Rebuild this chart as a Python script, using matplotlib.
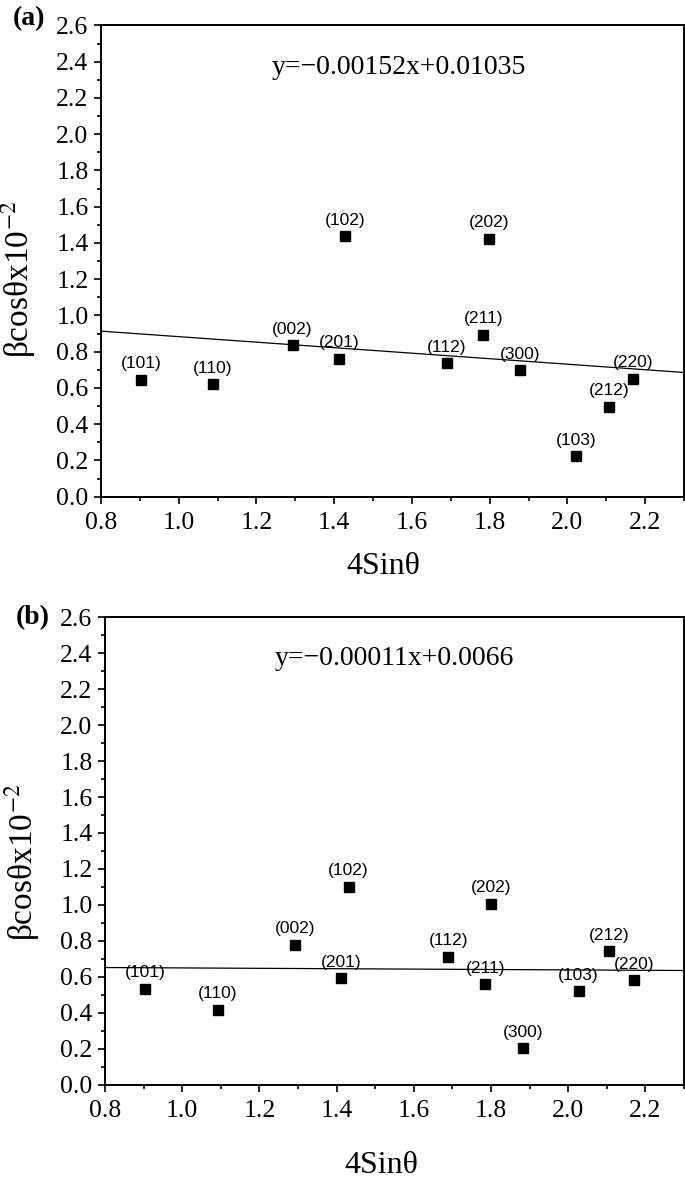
import numpy as np
import matplotlib
matplotlib.use("Agg")
import matplotlib.pyplot as plt
from matplotlib.ticker import MultipleLocator, FormatStrFormatter

plt.rcParams['font.family'] = ['Liberation Serif', 'DejaVu Serif']
plt.rcParams['mathtext.fontset'] = 'stix'

# peak labels (hkl) and 4 sin(theta) positions
hkl = ['(101)', '(110)', '(002)', '(201)', '(102)', '(112)',
       '(211)', '(202)', '(300)', '(103)', '(212)', '(220)']

x_a = [0.903, 1.088, 1.293, 1.413, 1.429, 1.690, 1.784, 1.799, 1.878, 2.023, 2.107, 2.170]
y_a = [0.645, 0.619, 0.836, 0.762, 1.437, 0.735, 0.894, 1.424, 0.698, 0.224, 0.497, 0.652]

x_b = [0.904, 1.092, 1.293, 1.411, 1.431, 1.689, 1.785, 1.799, 1.883, 2.027, 2.105, 2.171]
y_b = [0.532, 0.415, 0.778, 0.593, 1.101, 0.710, 0.558, 1.005, 0.201, 0.519, 0.743, 0.580]

# linear fits (beta cos theta = slope * 4 sin theta + intercept), plotted x 10^-2
slope_a, icpt_a = -0.00152, 0.01035
slope_b, icpt_b = -0.00011, 0.0066
eq_a = 'y=\u22120.00152x+0.01035'
eq_b = 'y=\u22120.00011x+0.0066'

fig = plt.figure(figsize=(6.85, 11.84), dpi=100)
ax1 = fig.add_axes([0.1474, 0.5805, 0.8511, 0.398])
ax2 = fig.add_axes([0.1533, 0.0840, 0.8453, 0.3946])

panels = [
    (ax1, x_a, y_a, slope_a, icpt_a, eq_a, '(a)', 0.462, 0.484, -70 / 471.2, 1.014),
    (ax2, x_b, y_b, slope_b, icpt_b, eq_b, '(b)', 0.476, 0.478, -81 / 467.2, 1.0),
]

for ax, xs, ys, m, c, eq, tag, ylab_y, xlab_x, xlab_y, tag_y in panels:
    xfit = np.array([0.8, 2.3])
    ax.plot(xfit, (m * xfit + c) * 100, color='black', lw=0.9)
    ax.plot(xs, ys, 's', color='black', markersize=7)
    for lab, xx, yy in zip(hkl, xs, ys):
        ax.annotate(lab, (xx, yy), xytext=(0, 11.5), textcoords='offset points',
                    ha='center', va='center', fontsize=12.5, family='Liberation Sans')

    ax.set_xlim(0.8, 2.3)
    ax.set_ylim(0.0, 2.6)
    ax.xaxis.set_major_locator(MultipleLocator(0.2))
    ax.xaxis.set_minor_locator(MultipleLocator(0.1))
    ax.yaxis.set_major_locator(MultipleLocator(0.2))
    ax.yaxis.set_minor_locator(MultipleLocator(0.1))
    ax.xaxis.set_major_formatter(FormatStrFormatter('%.1f'))
    ax.yaxis.set_major_formatter(FormatStrFormatter('%.1f'))
    ax.tick_params(which='both', direction='out', top=False, right=False, width=1.2)
    ax.tick_params(which='major', length=5, labelsize=18.5)
    ax.tick_params(axis='x', which='major', pad=6)
    ax.tick_params(axis='y', which='major', pad=4)
    ax.tick_params(which='minor', length=3)
    for sp in ax.spines.values():
        sp.set_linewidth(1.4)

    ax.text(1.24, 2.37, eq, ha='left', va='center', fontsize=20)
    ax.set_xlabel('4Sin\u03b8', fontsize=23, va='center')
    ax.xaxis.set_label_coords(xlab_x, xlab_y)
    ax.set_ylabel('\u03b2cos\u03b8x10$^{-2}$', fontsize=24)
    ax.yaxis.set_label_coords(-0.108, ylab_y)
    ax.text(-0.096, tag_y, tag, transform=ax.transAxes, ha='right', va='center',
            fontsize=20, fontweight='bold')

fig.savefig('out.png', dpi=100)
